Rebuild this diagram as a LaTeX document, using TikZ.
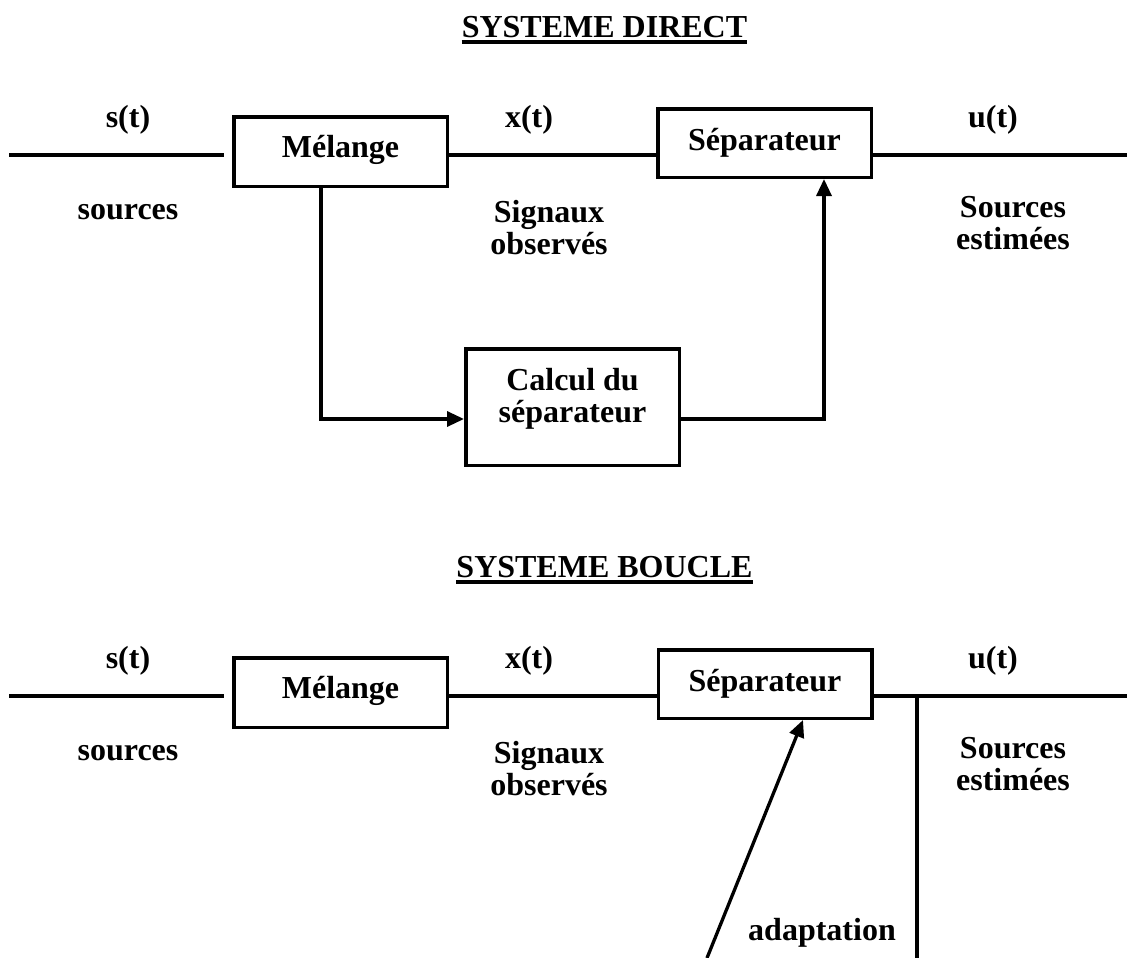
\documentclass[tikz,border=0pt]{standalone}
\usepackage{fontspec}
\setmainfont{Liberation Serif}
\usetikzlibrary{arrows.meta}
\begin{document}
\begin{tikzpicture}[x=1pt,y=-1pt,
  txt/.style={font=\fontsize{32}{32}\selectfont\bfseries, align=center, inner sep=0pt},
  blk/.style={draw, line width=3.5pt, minimum width=213.5pt, inner sep=0pt},
  wire/.style={line width=3.3pt},
  arr/.style={wire, -{Triangle[length=17pt,width=15pt]}},
  ttl/.style={txt, anchor=base},
  uline/.style={line width=4pt}
]
\useasboundingbox (0,0) rectangle (1133,958);

% ---------------- direct system ----------------
\node[ttl] (t1) at (604.5,38) {SYSTEME DIRECT};
\draw[uline] ([yshift=-4.5pt]t1.base west) -- ([yshift=-4.5pt]t1.base east);

\node[blk, minimum height=69.5pt] (mel) at (340.5,151.5) {};
\node[blk, minimum height=68.5pt] (sep) at (764.5,143) {};
\node[blk, minimum height=116.5pt] (calc) at (572.5,407) {};

\node[txt, anchor=base] (melt) at (340.5,157) {Mélange};
\node[txt, anchor=base] (sept) at (764.5,150) {Séparateur};
\node[txt, anchor=north] (calct) at (572.5,368) {Calcul du\\séparateur};

\node[txt, anchor=base] (s1) at (128,127) {s(t)};
\node[txt, anchor=base] (x1) at (529,127) {x(t)};
\node[txt, anchor=base] (u1) at (993,127) {u(t)};
\node[txt, anchor=base] (src1) at (128,219) {sources};
\node[txt, anchor=north] (obs1) at (549,200) {Signaux\\observés};
\node[txt, anchor=north] (est1) at (1013,196) {Sources\\estimées};

\coordinate (rowA) at (0,155);
\coordinate (inA) at (9,155);
\coordinate (inAe) at (224,155);
\coordinate (outA) at (1127,155);
\coordinate (mdA) at (321,419);
\coordinate (cuA) at (824,419);

\draw[wire] (inA) -- (inAe);
\draw[wire] (mel.east |- rowA) -- (sep.west |- rowA);
\draw[wire] (sep.east |- rowA) -- (outA);
\draw[arr] (mel.south -| mdA) -- (mdA) -- (mdA -| calc.west);
\draw[arr] (calc.east |- cuA) -- (cuA) -- (cuA |- sep.south);

% ---------------- closed-loop system ----------------
\node[ttl] (t2) at (604.5,577) {SYSTEME BOUCLE};
\draw[uline] ([yshift=-4.5pt]t2.base west) -- ([yshift=-4.5pt]t2.base east);

\node[blk, minimum height=69.5pt] (mel2) at (340.5,692.5) {};
\node[blk, minimum height=68.5pt] (sep2) at (765,684) {};

\node[txt, anchor=base] (melt2) at (340.5,698) {Mélange};
\node[txt, anchor=base] (sept2) at (765,691) {Séparateur};

\node[txt, anchor=base] (s2) at (128,668) {s(t)};
\node[txt, anchor=base] (x2) at (529,668) {x(t)};
\node[txt, anchor=base] (u2) at (993,668) {u(t)};
\node[txt, anchor=base] (src2) at (128,760) {sources};
\node[txt, anchor=north] (obs2) at (549,741) {Signaux\\observés};
\node[txt, anchor=north] (est2) at (1013,737) {Sources\\estimées};
\node[txt, anchor=base] (adp) at (822,940) {adaptation};

\coordinate (rowB) at (0,696);
\coordinate (inB) at (9,696);
\coordinate (inBe) at (224,696);
\coordinate (outB) at (1127,696);
\coordinate (tapB) at (917,696);
\coordinate (endB) at (917,958);
\coordinate (adB) at (707,958);
\coordinate (adX) at (803,0);

\draw[wire] (inB) -- (inBe);
\draw[wire] (mel2.east |- rowB) -- (sep2.west |- rowB);
\draw[wire] (sep2.east |- rowB) -- (outB);
\draw[wire] (tapB) -- (endB);
\draw[arr] (adB) -- (sep2.south -| adX);
\end{tikzpicture}
\end{document}
